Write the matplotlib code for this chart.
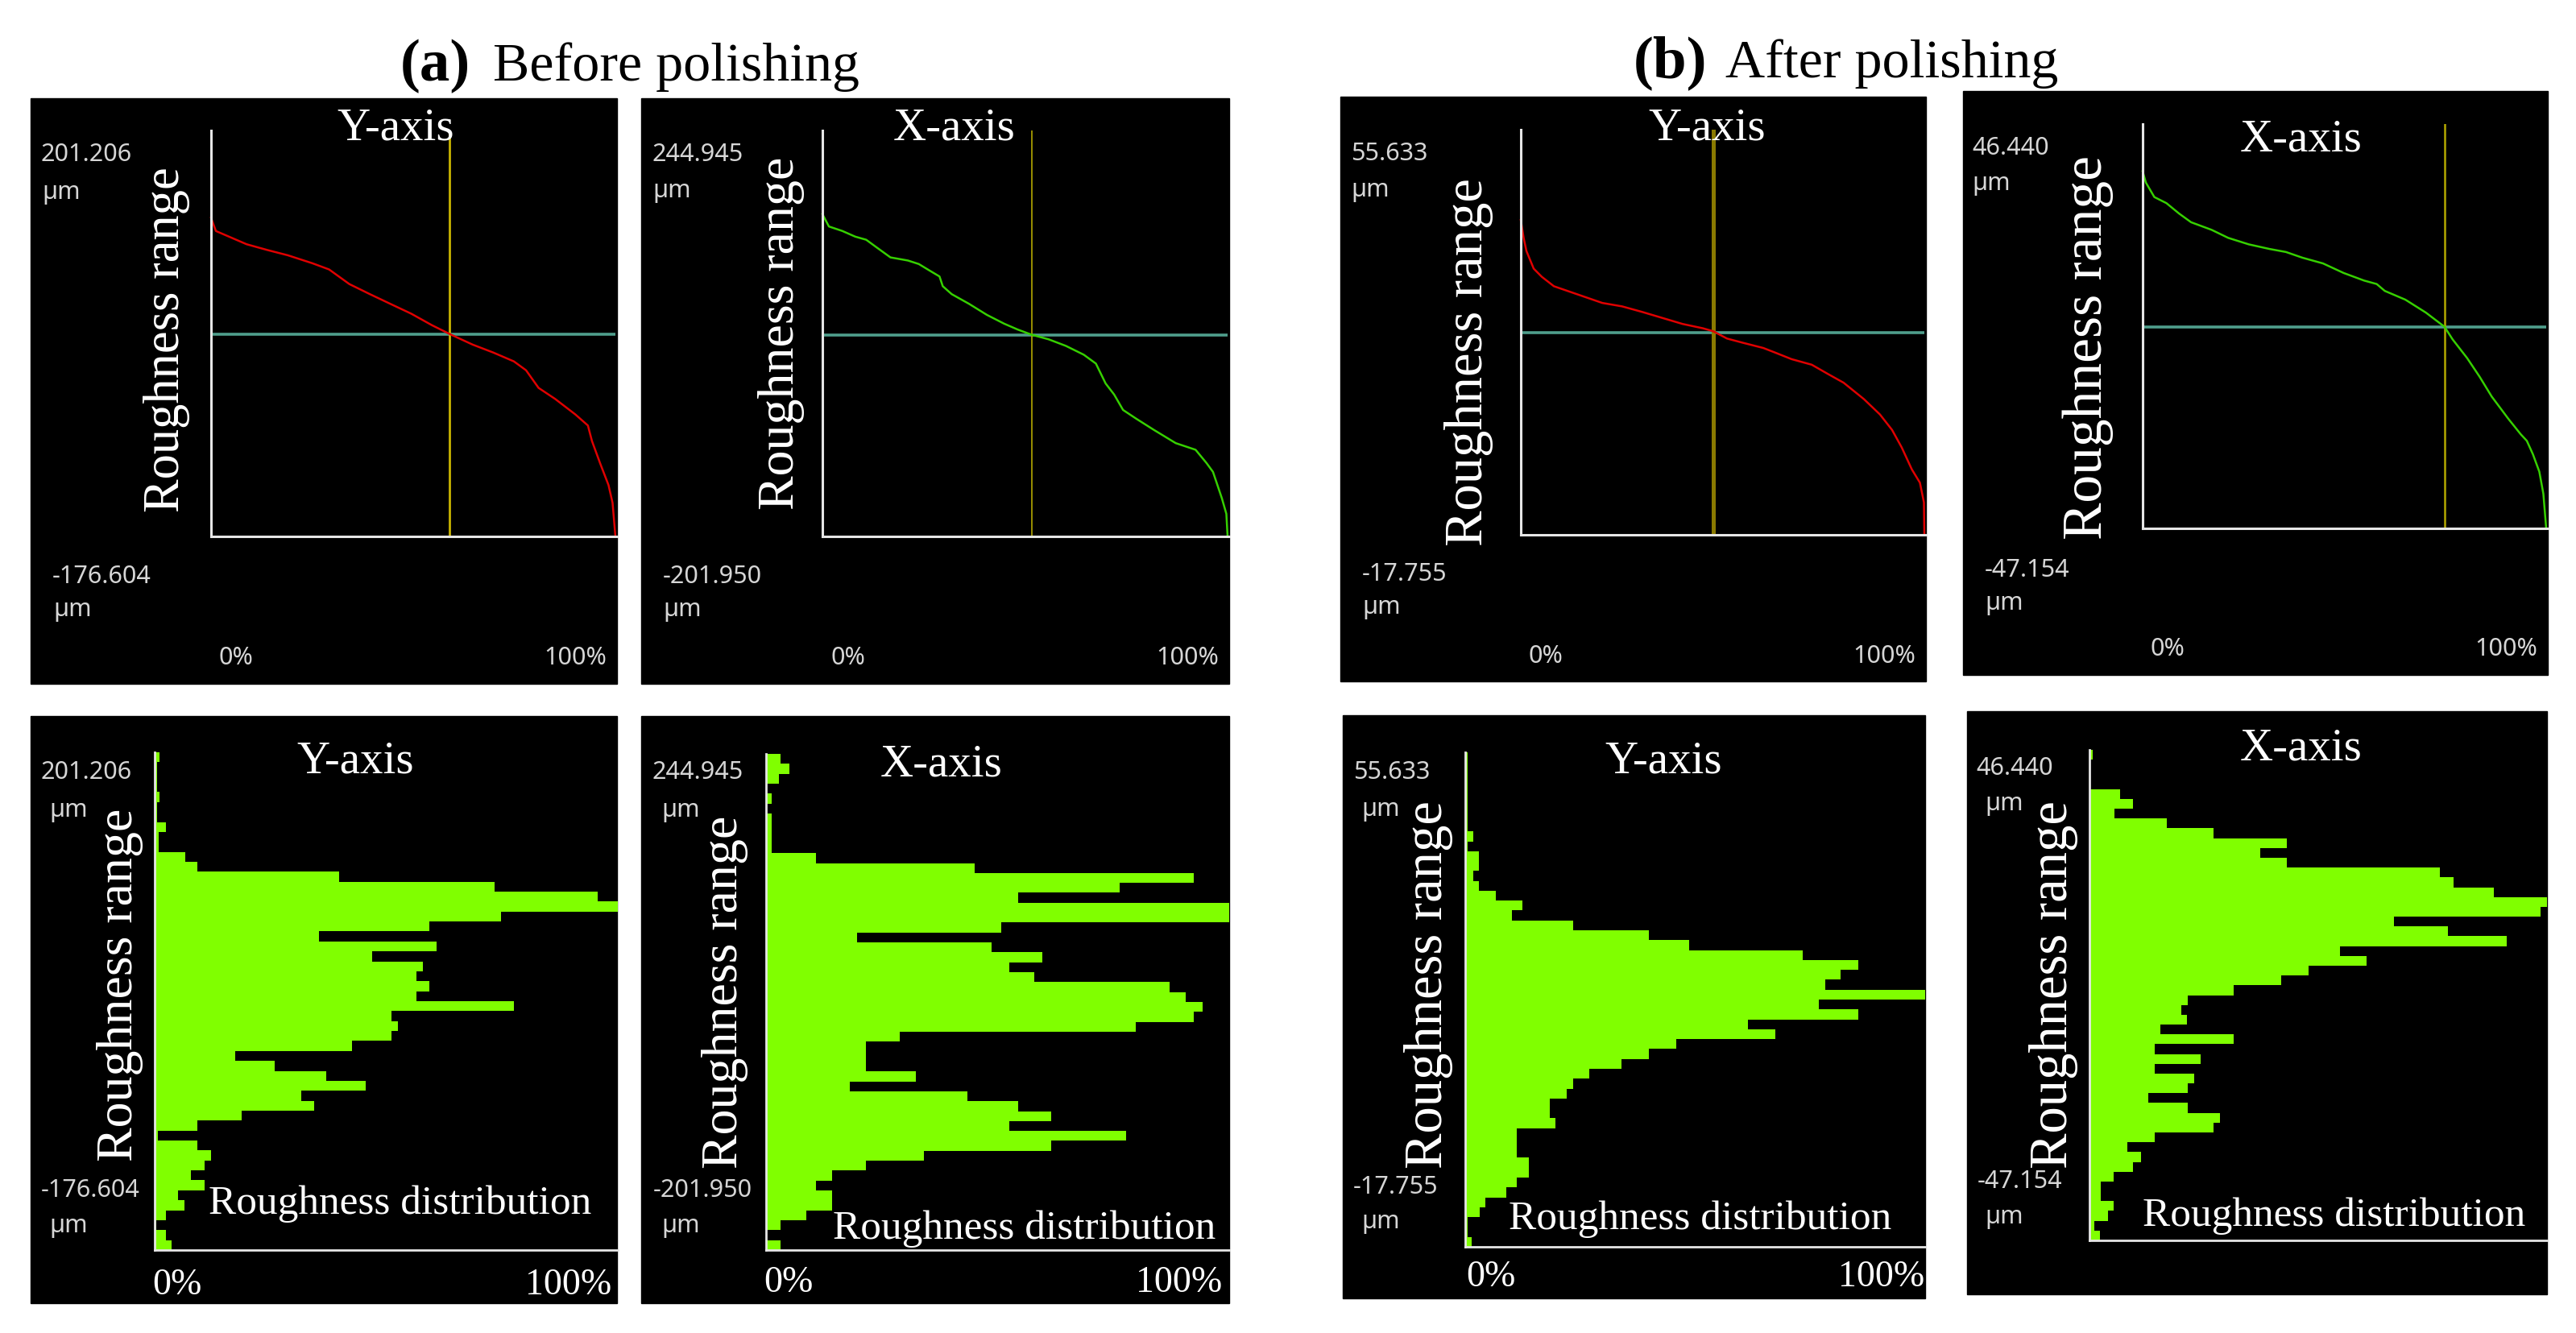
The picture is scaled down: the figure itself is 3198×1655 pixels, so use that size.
import numpy as np
import matplotlib.pyplot as plt
from matplotlib.patches import Rectangle

W, H = 3198, 1656
SERIF = 'Liberation Serif'
SANS = 'Noto Sans'

# ---------------- data ----------------
# height range of each measurement (max, min) in um
rng_before_y = (201.206, -176.604)
rng_before_x = (244.945, -201.950)
rng_after_y = (55.633, -17.755)
rng_after_x = (46.440, -47.154)

# bearing curves: material ratio (%) against height (um)
bef_y_pct = [0, 1.2, 8.8, 13.9, 19.0, 25.1, 29.2, 34.2, 39.3, 44.4, 49.5, 54.6, 59.0,
             64.7, 69.8, 74.9, 77.9, 81.0, 85.1, 90.1, 93.2, 94.2, 96.2, 98.3, 99.3, 100]
bef_y_um = [201.206, 185.5, 169.8, 163.0, 156.7, 147.2, 139.9, 122.6, 110.6, 99.0, 87.5,
            73.9, 63.4, 50.8, 41.4, 30.9, 20.4, -0.5, -13.6, -32.0, -45.1, -63.4, -89.6,
            -115.8, -136.8, -176.604]

bef_x_pct = [0, 1.6, 4.9, 8.1, 10.8, 13.5, 16.8, 21.1, 23.8, 26.5, 28.9, 29.7, 31.9, 36.2,
             40.6, 44.9, 48.2, 51.7, 55.8, 60.1, 64.5, 67.5, 69.9, 72.0, 74.2, 77.5, 81.8,
             87.2, 92.1, 94.8, 96.4, 98.6, 99.7, 100]
bef_x_um = [244.945, 227.8, 221.6, 213.7, 209.4, 198.3, 184.9, 180.6, 175.7, 166.5, 158.5,
            145.0, 134.0, 120.5, 105.2, 92.9, 84.9, 77.6, 71.4, 62.2, 50.0, 37.7, 10.1,
            -5.2, -26.6, -38.9, -54.2, -72.6, -81.8, -100.2, -112.5, -149.2, -170.7, -201.95]

aft_y_pct = [0, 0.7, 1.4, 3.2, 5.2, 8.2, 12.2, 16.2, 20.2, 25.1, 30.1, 35.1, 40.1, 45.1,
             47.7, 51.1, 55.1, 60.1, 63.1, 67.1, 72.1, 76.0, 80.0, 85.0, 89.0, 92.0, 94.4,
             96.9, 98.9, 99.9, 100]
aft_y_um = [55.633, 51.5, 48.4, 44.3, 42.4, 40.2, 38.9, 37.6, 36.3, 35.5, 34.2, 32.8, 31.4,
            30.4, 29.7, 28.0, 27.0, 25.8, 24.7, 23.2, 21.9, 19.8, 17.7, 13.9, 10.3, 6.7,
            2.6, -2.5, -5.6, -10.2, -17.755]

aft_x_pct = [0, 0.8, 2.9, 5.9, 9.0, 12.0, 17.1, 21.2, 26.3, 31.4, 35.5, 39.6, 44.7, 49.8,
             54.9, 58.0, 60.0, 65.1, 70.2, 74.8, 76.8, 80.4, 83.5, 86.5, 90.6, 93.7, 95.2,
             96.7, 98.3, 99.3, 100]
aft_x_um = [46.44, 43.5, 39.7, 38.1, 35.4, 33.1, 31.1, 29.0, 27.3, 26.1, 25.3, 23.8, 22.3,
            19.8, 17.8, 16.9, 15.1, 12.8, 9.4, 5.7, 2.4, -2.5, -7.4, -12.6, -18.4, -22.5,
            -24.2, -27.7, -32.3, -38.1, -47.154]

# cursor lines (ratio %, height um)
cur_bef_y = (59.0, 63.4)
cur_bef_x = (51.7, 77.6)
cur_aft_y = (47.7, 29.4)
cur_aft_x = (74.8, 5.7)

# height histograms: 50 bins from max (top) to min (bottom), % of longest bar
hist_bef_y = [1.1, 0.5, 0.5, 0.5, 1.1, 0.5, 0.5, 2.5, 0.9, 0.9,
              6.6, 9.2, 39.8, 73.4, 95.6, 100, 74.8, 59.3, 35.5, 60.8,
              46.9, 57.9, 56.5, 59.3, 56.5, 77.5, 51.2, 52.6, 51.2, 42.6,
              17.4, 25.9, 37.0, 45.5, 31.6, 34.5, 18.8, 9.2, 0.7, 9.2,
              12.1, 10.7, 7.8, 10.7, 5.0, 6.4, 2.5, 0.4, 2.5, 3.6]
hist_bef_x = [3.2, 5.0, 2.8, 0, 1.2, 0, 1.2, 1.2, 1.2, 1.2,
              10.7, 45.1, 92.4, 76.3, 54.4, 100, 100, 50.7, 19.7, 48.7,
              59.7, 52.6, 57.9, 87.1, 90.6, 94.3, 92.4, 79.8, 28.8, 21.5,
              21.5, 21.5, 32.3, 18.0, 43.4, 54.4, 61.5, 52.6, 77.8, 61.5,
              34.1, 21.5, 14.2, 10.7, 14.2, 14.2, 8.7, 3.2, 0.2, 3.2]
hist_aft_y = [0.5, 0.5, 0.5, 0.5, 0.5, 0.5, 0.5, 0.5, 1.8, 0.5,
              3.0, 3.0, 1.8, 3.0, 6.6, 12.5, 10.2, 23.4, 40.0, 48.6,
              73.4, 85.4, 81.6, 78.2, 100, 76.8, 85.4, 61.4, 67.5, 45.9,
              40.0, 33.9, 26.9, 23.4, 22.1, 18.4, 18.4, 19.6, 11.2, 11.2,
              11.2, 13.8, 13.8, 11.2, 8.9, 4.3, 3.1, 0.5, 0.5, 1.4]
hist_aft_x = [0.7, 0, 0, 0, 6.7, 9.5, 5.4, 16.9, 27.2, 43.2,
              37.4, 43.2, 76.6, 79.5, 88.3, 100, 98.6, 66.5, 78.3, 91.2,
              54.8, 60.6, 47.8, 41.9, 31.5, 21.4, 20.0, 21.3, 15.5, 31.5,
              14.2, 24.3, 14.2, 22.9, 21.4, 12.8, 21.4, 28.6, 27.2, 14.2,
              8.3, 11.2, 9.5, 5.2, 2.5, 2.5, 5.2, 4.0, 1.1, 2.3]

# ---------------- figure helpers (pixel coordinates, origin top-left) ----------------
fig = plt.figure(figsize=(W / 100, H / 100), dpi=100)
fig.patch.set_facecolor('white')


def box(x0, y0, x1, y1):
    return [x0 / W, 1 - y1 / H, (x1 - x0) / W, (y1 - y0) / H]


def panel(x0, y0, x1, y1):
    fig.patches.append(Rectangle((x0 / W, 1 - y1 / H), (x1 - x0) / W, (y1 - y0) / H,
                                 transform=fig.transFigure, color='black', zorder=-1))


def txt(x, y, s, **kw):
    fig.text(x / W, 1 - y / H, s, **kw)


def style(ax, lw):
    ax.set_facecolor('none')
    ax.spines['top'].set_visible(False)
    ax.spines['right'].set_visible(False)
    for s in ['left', 'bottom']:
        ax.spines[s].set_color('#e6e6e6')
        ax.spines[s].set_linewidth(lw)
    ax.set_xticks([])
    ax.set_yticks([])


def range_labels(rng, top, bot):
    kw = dict(family=SANS, fontsize=22, color='#d6d6d6', ha='left', va='center')
    txt(top[0], top[1], f'{rng[0]:.3f}', **kw)
    txt(top[2], top[3], 'µm', **kw)
    txt(bot[0], bot[1], f'{rng[1]:.3f}', **kw)
    txt(bot[2], bot[3], 'µm', **kw)


# ---------------- bearing curve panels ----------------
curve_panels = [
    dict(x=bef_y_pct, y=bef_y_um, rng=rng_before_y, cur=cur_bef_y, color='#e00000', head=0.785,
         panel=(38, 123, 766, 850), axes=(262, 163, 766, 667), title='Y-axis', tx=491, ty=173,
         rr=(207, 422, 45), top=(51, 192, 52, 239), bot=(65, 716, 66, 757), pct=(293, 714, 817),
         ycol='#c8b400', yw=2.0),
    dict(x=bef_x_pct, y=bef_x_um, rng=rng_before_x, cur=cur_bef_x, color='#36d000', head=0.794,
         panel=(796, 123, 1526, 850), axes=(1021, 163, 1526, 667), title='X-axis', tx=1185, ty=174,
         rr=(970, 414, 46), top=(810, 192, 810, 237), bot=(823, 716, 823, 757), pct=(1053, 1474, 817),
         ycol='#b4a800', yw=1.2),
    dict(x=aft_y_pct, y=aft_y_um, rng=rng_after_y, cur=cur_aft_y, color='#e00000', head=0.777,
         panel=(1664, 121, 2391, 847), axes=(1888, 162, 2391, 665), title='Y-axis', tx=2119, ty=174,
         rr=(1824, 450, 48), top=(1677, 191, 1677, 236), bot=(1691, 713, 1691, 754), pct=(1919, 2339, 815),
         ycol='#8a7a00', yw=3.6),
    dict(x=aft_x_pct, y=aft_x_um, rng=rng_after_x, cur=cur_aft_x, color='#36d000', head=0.883,
         panel=(2437, 114, 3163, 839), axes=(2660, 155, 3163, 657), title='X-axis', tx=2857, ty=188,
         rr=(2592, 432, 50), top=(2448, 184, 2448, 228), bot=(2464, 708, 2464, 749), pct=(2691, 3111, 806),
         ycol='#b4a800', yw=1.8),
]

for p in curve_panels:
    panel(*p['panel'])
    ax = fig.add_axes(box(*p['axes']))
    style(ax, 2.2)
    lo, hi = p['rng'][1], p['rng'][0]
    ax.set_xlim(0, 100.4)
    ax.set_ylim(lo, lo + (hi - lo) / p['head'])
    ax.hlines(p['cur'][1], 0, 100, color='#4f9e8c', lw=2.6, zorder=1)
    ax.axvline(p['cur'][0], color=p['ycol'], lw=p['yw'], zorder=1)
    ax.plot(p['x'], p['y'], color=p['color'], lw=1.8, zorder=2, clip_on=False)
    txt(p['tx'], p['ty'], p['title'], family=SERIF, fontsize=41, color='white',
        ha='center', va='baseline')
    txt(p['rr'][0], p['rr'][1], 'Roughness range', family=SERIF, fontsize=p['rr'][2],
        color='white', rotation=90, ha='center', va='center')
    range_labels(p['rng'], p['top'], p['bot'])
    pkw = dict(family=SANS, fontsize=22, color='#d6d6d6', ha='center', va='center')
    txt(p['pct'][0], p['pct'][2], '0%', **pkw)
    txt(p['pct'][1], p['pct'][2], '100%', **pkw)

# ---------------- histogram panels ----------------
hist_panels = [
    dict(vals=hist_bef_y, rng=rng_before_y, panel=(38, 890, 766, 1619), axes=(192, 935, 767, 1553),
         title='Y-axis', tx=441, ty=960, rr=(149, 1223, 46), dist=(497, 1507),
         top=(51, 959, 61, 1006), bot=(51, 1478, 61, 1522), pct=(189, 759, 1596)),
    dict(vals=hist_bef_x, rng=rng_before_x, panel=(796, 890, 1526, 1619), axes=(951, 937, 1526, 1553),
         title='X-axis', tx=1169, ty=964, rr=(900, 1232, 46), dist=(1272, 1538),
         top=(810, 959, 821, 1006), bot=(811, 1478, 821, 1522), pct=(948, 1517, 1593)),
    dict(vals=hist_aft_y, rng=rng_after_y, panel=(1667, 889, 2390, 1613), axes=(1819, 935, 2390, 1549),
         title='Y-axis', tx=2065, ty=960, rr=(1773, 1223, 48), dist=(2111, 1526),
         top=(1680, 959, 1690, 1005), bot=(1680, 1474, 1690, 1517), pct=(1820, 2389, 1586)),
    dict(vals=hist_aft_x, rng=rng_after_x, panel=(2442, 884, 3162, 1608), axes=(2594, 932, 3162, 1541),
         title='X-axis', tx=2857, ty=944, rr=(2549, 1223, 48), dist=(2898, 1522),
         top=(2453, 954, 2464, 998), bot=(2455, 1467, 2464, 1511), pct=None),
]

for p in hist_panels:
    panel(*p['panel'])
    ax = fig.add_axes(box(*p['axes']))
    style(ax, 2.0)
    hi, lo = p['rng']
    vals = np.array(p['vals'])[::-1]
    edges = np.linspace(lo, hi, len(vals) + 1)
    ax.stairs(vals, edges, orientation='horizontal', fill=True, color='#80ff00', baseline=0)
    ax.set_xlim(0, 100)
    ax.set_ylim(lo, hi)
    txt(p['tx'], p['ty'], p['title'], family=SERIF, fontsize=41, color='white',
        ha='center', va='baseline')
    txt(p['rr'][0], p['rr'][1], 'Roughness range', family=SERIF, fontsize=p['rr'][2],
        color='white', rotation=90, ha='center', va='center')
    txt(p['dist'][0], p['dist'][1], 'Roughness distribution', family=SERIF, fontsize=37,
        color='white', ha='center', va='baseline')
    range_labels(p['rng'], p['top'], p['bot'])
    if p['pct']:
        txt(p['pct'][0], p['pct'][2], '0%', family=SERIF, fontsize=33, color='white',
            ha='left', va='center')
        txt(p['pct'][1], p['pct'][2], '100%', family=SERIF, fontsize=33, color='white',
            ha='right', va='center')

# ---------------- group headings ----------------
txt(497, 100, '(a)', family=SERIF, fontsize=54, fontweight='bold', ha='left', va='baseline')
txt(612, 100, 'Before polishing', family=SERIF, fontsize=49, ha='left', va='baseline')
txt(2028, 96, '(b)', family=SERIF, fontsize=54, fontweight='bold', ha='left', va='baseline')
txt(2142, 96, 'After polishing', family=SERIF, fontsize=49, ha='left', va='baseline')

fig.savefig('out.png', dpi=100, facecolor='white')
